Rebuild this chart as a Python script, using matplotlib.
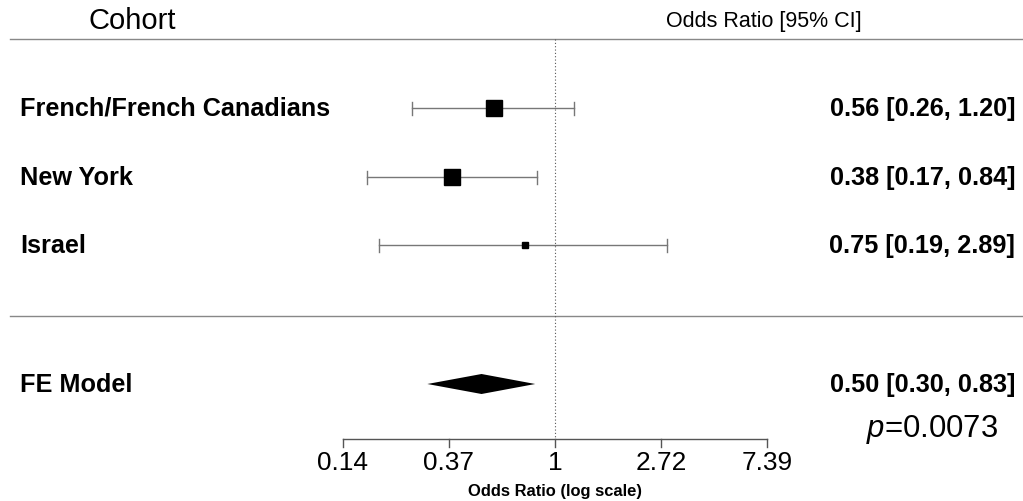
import numpy as np
import matplotlib.pyplot as plt

# data
cohorts = ["French/French Canadians", "New York", "Israel"]
or_est = [0.56, 0.38, 0.75]
ci_lo = [0.26, 0.17, 0.19]
ci_hi = [1.20, 0.84, 2.89]
box_size = [12.2, 11.5, 3.8]  # marker size in pt, by weight

fe_label = "FE Model"
fe_est = 0.50
fe_lo = 0.30
fe_hi = 0.83
p_value = "0.0073"

tick_vals = np.exp([-2, -1, 0, 1, 2])
tick_labels = ["0.14", "0.37", "1", "2.72", "7.39"]

plt.rcParams["font.family"] = ["Liberation Sans", "DejaVu Sans"]
plt.rcParams["mathtext.fontset"] = "custom"
plt.rcParams["mathtext.it"] = "Liberation Sans:italic"

fig = plt.figure(figsize=(10.23, 5.02), dpi=100)
ax = fig.add_axes([0, 0, 1, 1])
ax.set_xscale("log")
# 106 px per unit of ln(OR), OR=1 at x=555 px
ax.set_xlim(np.exp(-555 / 106), np.exp((1023 - 555) / 106))
ax.set_ylim(502, 0)
ax.axis("off")

row_y = [109, 178, 246]
fe_y = 385
fs = 18.2

# header
ax.text(88 / 1023, 1 - 21 / 502, "Cohort", transform=ax.transAxes,
        fontsize=21, va="center", ha="left")
ax.text(764 / 1023, 1 - 22 / 502, "Odds Ratio [95% CI]", transform=ax.transAxes,
        fontsize=15.5, va="center", ha="center")
ax.plot([10 / 1023, 1], [1 - 40 / 502] * 2, transform=ax.transAxes,
        color="#888888", lw=1)
ax.plot([10 / 1023, 1], [1 - 317 / 502] * 2, transform=ax.transAxes,
        color="#888888", lw=1)

# reference line
ax.plot([1, 1], [40, 440], color="#555555", lw=0.8, ls=(0, (1, 2)))

# studies
for name, est, lo, hi, s, y in zip(cohorts, or_est, ci_lo, ci_hi, box_size, row_y):
    ax.plot([lo, hi], [y, y], color="#777777", lw=1)
    ax.plot([lo, lo], [y - 6.5, y + 6.5], color="#777777", lw=1)
    ax.plot([hi, hi], [y - 6.5, y + 6.5], color="#777777", lw=1)
    ax.plot(est, y, marker="s", ms=s, color="black", mec="black")
    ax.text(20 / 1023, 1 - y / 502, name, transform=ax.transAxes,
            fontsize=fs, fontweight="bold", va="center", ha="left")
    ax.text(1015 / 1023, 1 - y / 502, f"{est:.2f} [{lo:.2f}, {hi:.2f}]",
            transform=ax.transAxes, fontsize=fs, fontweight="bold",
            va="center", ha="right")

# summary diamond
ax.fill([fe_lo, fe_est, fe_hi, fe_est], [fe_y, fe_y - 10, fe_y, fe_y + 10],
        color="black", lw=0)
ax.text(20 / 1023, 1 - fe_y / 502, fe_label, transform=ax.transAxes,
        fontsize=fs, fontweight="bold", va="center", ha="left")
ax.text(1015 / 1023, 1 - fe_y / 502, f"{fe_est:.2f} [{fe_lo:.2f}, {fe_hi:.2f}]",
        transform=ax.transAxes, fontsize=fs, fontweight="bold",
        va="center", ha="right")
ax.text(932 / 1023, 1 - 430 / 502, "$p$=" + p_value, transform=ax.transAxes,
        fontsize=22.4, va="center", ha="center")

# x axis
ax.plot([tick_vals[0], tick_vals[-1]], [440, 440], color="#555555", lw=1)
for v, lab in zip(tick_vals, tick_labels):
    ax.plot([v, v], [440, 448], color="#555555", lw=1)
    ax.text(v, 463, lab, fontsize=18.9, ha="center", va="center")
ax.text(1, 492, "Odds Ratio (log scale)", fontsize=11.9, fontweight="bold",
        ha="center", va="center")

fig.savefig("out.png", dpi=100, facecolor="white")
